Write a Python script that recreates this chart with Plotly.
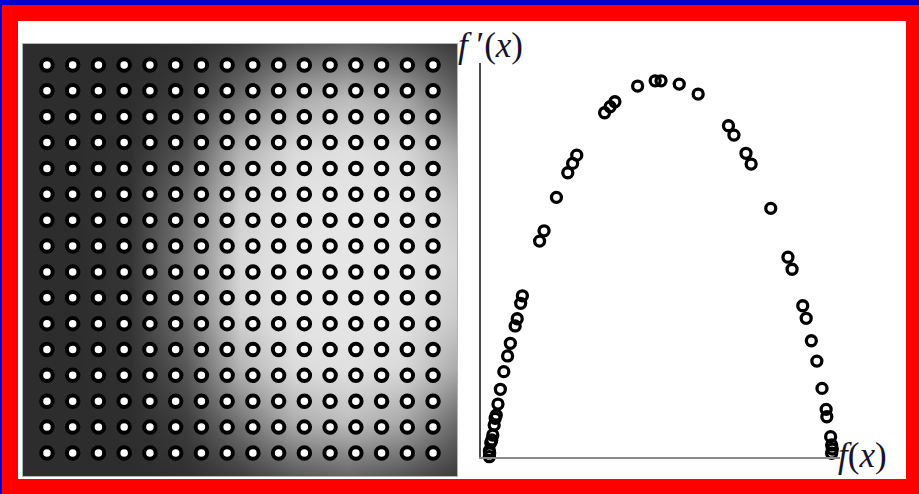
import plotly.graph_objects as go

W, H = 919, 494

# ---- left panel: grey-level field sampled on a coarse 9x9 lattice (0-255) ----
field_x = [-0.93, 1.17, 3.26, 5.40, 7.50, 9.60, 11.70, 13.84, 15.93]
field_y = [-0.81, 1.28, 3.36, 5.45, 7.54, 9.63, 11.71, 13.80, 15.89]
field_gray = [
    [45, 45, 45, 48, 61, 85, 98, 82, 58],
    [45, 45, 46, 59, 110, 169, 187, 165, 101],
    [45, 45, 49, 84, 178, 218, 224, 216, 169],
    [45, 45, 53, 114, 209, 228, 230, 228, 201],
    [45, 45, 54, 126, 215, 230, 230, 229, 212],
    [45, 45, 53, 117, 211, 229, 230, 228, 203],
    [45, 45, 49, 86, 180, 219, 225, 217, 171],
    [45, 45, 46, 61, 115, 173, 190, 168, 105],
    [45, 45, 45, 48, 62, 88, 101, 84, 59],
]

# sample locations drawn over the field (16 x 16 lattice)
grid_cols = list(range(16))
grid_rows = list(range(16))

# ---- right panel: f(x) against f'(x) at the sample locations ----
f_vals = [
    0.001, 0.001, 0.002, 0.005, 0.008, 0.011, 0.015, 0.018, 0.021, 0.026,
    0.033, 0.043, 0.054, 0.062, 0.076, 0.082, 0.092, 0.097, 0.147, 0.160,
    0.196, 0.229, 0.243, 0.255, 0.336, 0.352, 0.366, 0.432, 0.483, 0.500,
    0.553, 0.608, 0.696, 0.712, 0.747, 0.762, 0.819, 0.869, 0.881, 0.912,
    0.922, 0.937, 0.953, 0.968, 0.980, 0.982, 0.993, 0.996, 0.998, 0.996,
    1.001,
]
fprime_vals = [
    0.0002, 0.0042, 0.0027, 0.0095, 0.0113, 0.0146, 0.0212, 0.0257, 0.0278, 0.0351,
    0.0449, 0.0566, 0.0670, 0.0754, 0.0869, 0.0917, 0.1019, 0.1069, 0.1432, 0.1500,
    0.1722, 0.1885, 0.1947, 0.2002, 0.2283, 0.2323, 0.2356, 0.2460, 0.2495, 0.2495,
    0.2473, 0.2407, 0.2197, 0.2135, 0.2014, 0.1943, 0.1649, 0.1325, 0.1245, 0.1003,
    0.0920, 0.0771, 0.0636, 0.0455, 0.0316, 0.0267, 0.0135, 0.0080, 0.0053, 0.0025,
    -0.0009,
]


def px_x(p):
    return p / W


def px_y(p):
    return 1 - p / H


fig = go.Figure()

fig.add_trace(go.Heatmap(
    x=field_x, y=field_y, z=field_gray,
    zmin=0, zmax=255, zsmooth="best",
    colorscale=[[0, "rgb(0,0,0)"], [1, "rgb(255,255,255)"]],
    showscale=False, hoverinfo="skip",
    xaxis="x", yaxis="y",
))

gx = [c for r in grid_rows for c in grid_cols]
gy = [r for r in grid_rows for c in grid_cols]
fig.add_trace(go.Scatter(
    x=gx, y=gy, mode="markers",
    marker=dict(symbol="circle", size=11.5, color="white",
                line=dict(color="black", width=4)),
    xaxis="x", yaxis="y", hoverinfo="skip", showlegend=False,
))

fig.add_trace(go.Scatter(
    x=f_vals, y=fprime_vals, mode="markers",
    marker=dict(symbol="circle-open", size=10, color="black",
                line=dict(width=3.3)),
    xaxis="x2", yaxis="y2", cliponaxis=False, showlegend=False,
))

hidden = dict(showgrid=False, zeroline=False, showticklabels=False, ticks="")
label_font = dict(family="Liberation Serif", size=35, color="#14142e")

fig.update_layout(
    width=W, height=H,
    margin=dict(l=0, r=0, t=0, b=0),
    paper_bgcolor="#0000cc",
    plot_bgcolor="rgba(0,0,0,0)",
    showlegend=False,
    xaxis=dict(domain=[px_x(23), px_x(457)], range=[-0.93, 15.93],
               showline=True, mirror=True, linecolor="#b4b4b4", linewidth=1,
               **hidden),
    yaxis=dict(domain=[px_y(476), px_y(44)], range=[15.89, -0.81],
               showline=True, mirror=True, linecolor="#b4b4b4", linewidth=1,
               **hidden),
    xaxis2=dict(domain=[px_x(481), px_x(840)], range=[-0.0233, 1.0203],
                anchor="y2", showline=True, linecolor="#8a8a8a", linewidth=2,
                **hidden),
    yaxis2=dict(domain=[px_y(457), px_y(63)], range=[0, 0.2613],
                anchor="x2", showline=True, linecolor="#4a4a4a", linewidth=2,
                **hidden),
    shapes=[
        dict(type="rect", xref="paper", yref="paper", layer="below",
             x0=px_x(2), x1=1, y0=0, y1=px_y(5),
             fillcolor="#ff0000", line=dict(width=0)),
        dict(type="rect", xref="paper", yref="paper", layer="below",
             x0=px_x(18), x1=px_x(906), y0=px_y(479), y1=px_y(21),
             fillcolor="white", line=dict(width=0)),
    ],
    annotations=[
        dict(text="<i>f</i> ′(<i>x</i>)", xref="paper", yref="paper",
             x=px_x(456), y=px_y(45), xanchor="left", yanchor="middle",
             showarrow=False, font=label_font),
        dict(text="<i>f</i>(<i>x</i>)", xref="paper", yref="paper",
             x=px_x(836), y=px_y(455), xanchor="left", yanchor="middle",
             showarrow=False, font=label_font),
    ],
)

fig.write_html("out.html")
